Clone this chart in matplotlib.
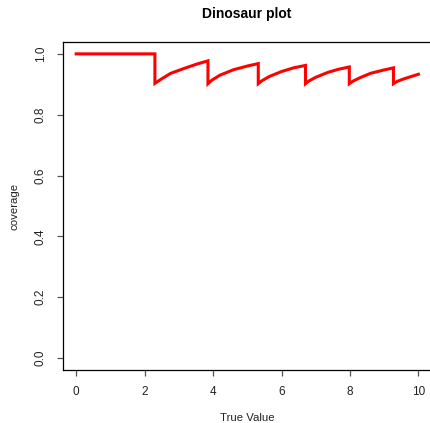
import matplotlib
import matplotlib.pyplot as plt

matplotlib.use('Agg')

plt.rcParams['font.family'] = ['Liberation Sans', 'DejaVu Sans']

# coverage curve (vertical drops share an x value)
true_value = [0.0, 2.30,
              2.30, 2.47, 2.76, 3.15, 3.54, 3.85,
              3.85, 3.97, 4.20, 4.60, 5.00, 5.32,
              5.32, 5.43, 5.65, 6.00, 6.35, 6.70,
              6.70, 6.80, 7.00, 7.35, 7.65, 7.98,
              7.98, 8.08, 8.30, 8.60, 8.95, 9.27,
              9.27, 9.37, 9.55, 9.80, 10.0]
coverage = [1.0, 1.0,
            0.903, 0.916, 0.936, 0.952, 0.967, 0.977,
            0.902, 0.914, 0.930, 0.948, 0.960, 0.968,
            0.902, 0.912, 0.926, 0.942, 0.954, 0.962,
            0.902, 0.911, 0.923, 0.939, 0.949, 0.957,
            0.902, 0.910, 0.922, 0.936, 0.946, 0.954,
            0.902, 0.909, 0.917, 0.926, 0.933]

x_ticks = [0, 2, 4, 6, 8, 10]
y_ticks = [0.0, 0.2, 0.4, 0.6, 0.8, 1.0]

W, H = 430, 423
fig = plt.figure(figsize=(W / 100, H / 100), dpi=100)
# plot box in pixels: left 62.5, right past the image edge, top 41.7, bottom 370.3
ax = fig.add_axes([62.5 / W, (H - 370.3) / H, (433.5 - 62.5) / W, (370.3 - 41.7) / H])

ax.plot(true_value, coverage, color='#FF0000', linewidth=2.2, solid_joinstyle='miter')

ax.set_xlim(-0.4, 10.44)
ax.set_ylim(-0.04, 1.04)
ax.set_xticks(x_ticks)
ax.set_xticklabels([str(t) for t in x_ticks])
ax.set_yticks(y_ticks)
ax.set_yticklabels([f'{t:.1f}' for t in y_ticks], rotation=90, va='center')

for s in ax.spines.values():
    s.set_color('black')
    s.set_linewidth(0.9)
# the right side of the box falls outside the image in the reference
ax.spines['right'].set_visible(False)

ax.tick_params(direction='out', length=4.3, width=0.9, color='#555555',
               labelsize=8.5, labelcolor='#222222', pad=7)

fig.text(247 / W, 1 - 14 / H, 'Dinosaur plot', ha='center', va='center',
         fontsize=10, fontweight='bold')
fig.text(247 / W, 1 - 418 / H, 'True Value', ha='center', va='center',
         fontsize=8.2, color='#222222')
fig.text(15 / W, 1 - 206 / H, 'coverage', ha='center', va='center',
         rotation=90, fontsize=8.2, color='#222222')

fig.savefig('out.png', dpi=100)
plt.close()
